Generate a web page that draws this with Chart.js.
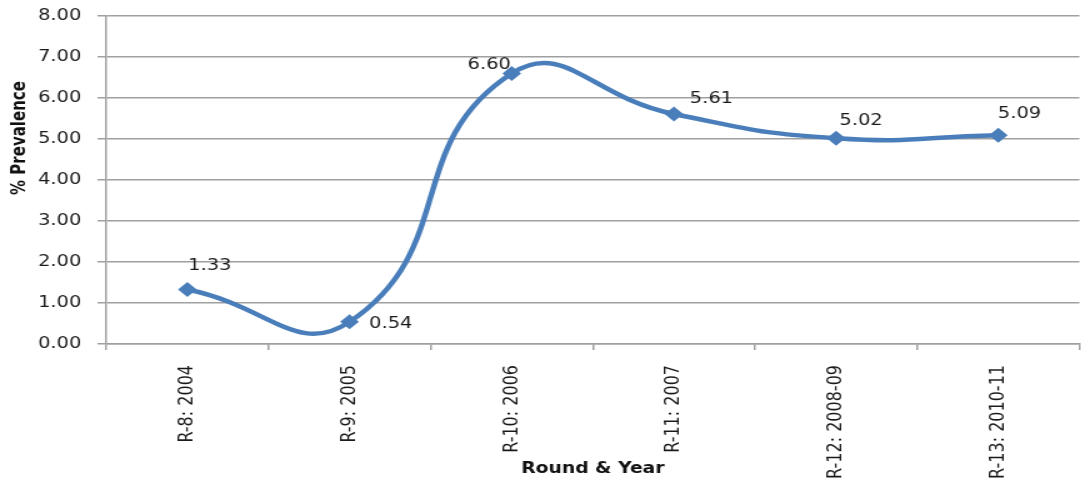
<!DOCTYPE html>
<html>
<head>
<meta charset="utf-8">
<script src="https://cdn.jsdelivr.net/npm/chart.js@4/dist/chart.umd.min.js"></script>
<style>
  html, body { margin: 0; padding: 0; background: #ffffff; overflow: hidden; }
  #wrap { width: 871px; height: 481px; transform: scaleX(1.25); transform-origin: 0 0; }
  canvas { display: block; }
</style>
</head>
<body>
<div id="wrap"><canvas id="chart" width="871" height="481"></canvas></div>
<script>
// Survey rounds and measured prevalence (%)
const categories = ['R-8: 2004', 'R-9: 2005', 'R-10: 2006', 'R-11: 2007', 'R-12: 2008-09', 'R-13: 2010-11'];
const prevalence = [1.33, 0.54, 6.60, 5.61, 5.02, 5.09];
const yAxisMin = 0;
const yAxisMax = 8;
const yAxisStep = 1;
const xAxisTitle = 'Round & Year';
const yAxisTitle = '% Prevalence';

const FONT = '"DejaVu Sans", Verdana, sans-serif';
const TEXT = '#1a1a1a';
const LINE = '#4a7ebb';
const GRID = '#a0a0a0';

// Where each value label sits relative to its marker
const labelShift = [[18, -24], [33, 2], [-18, -8], [30, -15], [20, -17], [17, -21]];

const valueLabels = {
  id: 'valueLabels',
  afterDatasetsDraw(chart) {
    const ctx = chart.ctx;
    const meta = chart.getDatasetMeta(0);
    const data = chart.data.datasets[0].data;
    ctx.save();
    ctx.font = '15.5px ' + FONT;
    ctx.fillStyle = TEXT;
    ctx.textAlign = 'center';
    ctx.textBaseline = 'middle';
    meta.data.forEach((pt, i) => {
      const [dx, dy] = labelShift[i];
      ctx.fillText(Number(data[i]).toFixed(2), pt.x + dx, pt.y + dy);
    });
    ctx.restore();
  }
};

const axisTitles = {
  id: 'axisTitles',
  afterDraw(chart) {
    const ctx = chart.ctx;
    const area = chart.chartArea;
    ctx.save();
    ctx.font = 'bold 15px ' + FONT;
    ctx.fillStyle = '#111111';
    ctx.textAlign = 'center';
    ctx.textBaseline = 'middle';
    ctx.fillText(xAxisTitle, (area.left + area.right) / 2, 469);
    ctx.translate(16, 138);
    ctx.rotate(-Math.PI / 2);
    ctx.fillText(yAxisTitle, 0, 0);
    ctx.restore();
  }
};

new Chart(document.getElementById('chart'), {
  type: 'line',
  data: {
    labels: categories,
    datasets: [{
      data: prevalence,
      borderColor: LINE,
      backgroundColor: LINE,
      borderWidth: 4.5,
      tension: 0.5,
      fill: false,
      pointStyle: 'rectRot',
      pointRadius: 7.5,
      pointHoverRadius: 7.5,
      pointBorderWidth: 0,
      pointBackgroundColor: LINE
    }]
  },
  options: {
    responsive: false,
    animation: false,
    devicePixelRatio: 1,
    layout: { padding: { top: 16, right: 0, bottom: 0, left: 0 } },
    elements: { line: { capBezierPoints: false } },
    plugins: {
      legend: { display: false },
      tooltip: { enabled: false }
    },
    scales: {
      x: {
        offset: true,
        grid: { display: true, offset: true, drawOnChartArea: false, drawTicks: true, tickLength: 6, color: GRID, lineWidth: 1.5 },
        border: { display: true, color: GRID, width: 1.5 },
        ticks: {
          minRotation: 90, maxRotation: 90, autoSkip: false, padding: 15,
          color: TEXT, font: { family: FONT, size: 16 }
        },
        afterFit(scale) {
          scale.height = 137;
          scale.paddingLeft = 0;
          scale.paddingRight = 0;
        }
      },
      y: {
        min: yAxisMin,
        max: yAxisMax,
        grid: { color: GRID, lineWidth: 1.5, tickLength: 7 },
        border: { display: true, color: GRID, width: 1.5 },
        ticks: {
          stepSize: yAxisStep, padding: 13,
          color: TEXT, font: { family: FONT, size: 15.5 },
          callback: (v) => Number(v).toFixed(2)
        },
        afterFit(scale) {
          scale.width = 85;
          scale.paddingTop = 0;
          scale.paddingBottom = 0;
        }
      }
    }
  },
  plugins: [valueLabels, axisTitles]
});
</script>
</body>
</html>
